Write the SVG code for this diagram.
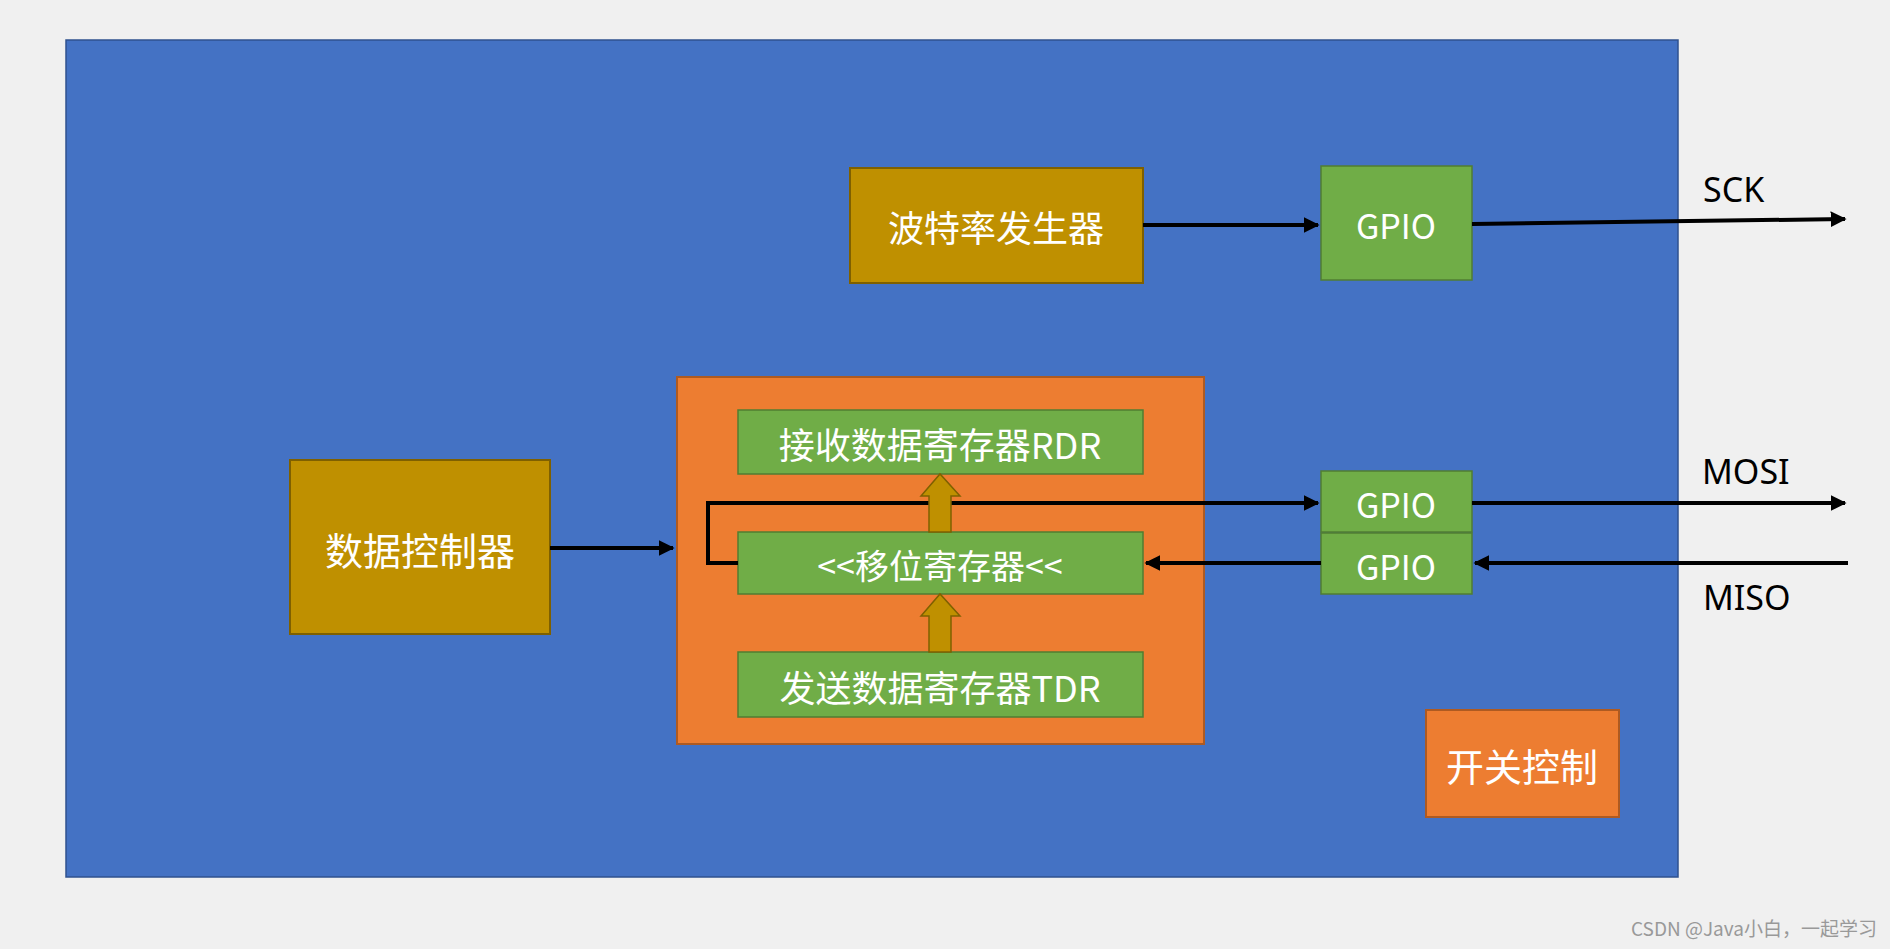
<svg xmlns="http://www.w3.org/2000/svg" width="1890" height="949" viewBox="0 0 1890 949">
<defs>
<style>
.t{font-family:"Noto Sans CJK SC","Noto Sans",sans-serif;fill:#fff;text-anchor:middle;dominant-baseline:central}
.lb{font-family:"Noto Sans","Noto Sans CJK SC",sans-serif;fill:#000;font-size:34px}
.gold{fill:#BF9000;stroke:#7F6000;stroke-width:2}
.green{fill:#70AD47;stroke:#507E32;stroke-width:1.5}
.orange{fill:#ED7D31;stroke:#AE5A21;stroke-width:2}
.ln{stroke:#000;stroke-width:4;fill:none}
.blk{fill:#BF9000;stroke:#7F6000;stroke-width:1.5}
</style>
<marker id="a" viewBox="0 0 10 10" refX="9" refY="5" markerWidth="4" markerHeight="4" orient="auto"><path d="M0,0L10,5L0,10z" fill="#000"/></marker>
</defs>
<rect width="1890" height="949" fill="#F0F0F0"/>
<rect id="main" x="66" y="40" width="1612" height="837" fill="#4472C4" stroke="#2F528F" stroke-width="1.5"/>
<g id="baud"><rect class="gold" x="850" y="168" width="293" height="115"/><text class="t" x="996" y="226" font-size="36">波特率发生器</text></g>
<g id="gpio_sck"><rect class="green" x="1321" y="166" width="151" height="114"/><text class="t" x="1396" y="224" font-size="34">GPIO</text></g>
<g id="spi"><rect class="orange" x="677" y="377" width="527" height="367"/></g>
<g id="rdr"><rect class="green" x="738" y="410" width="405" height="64"/><text class="t" x="940" y="443" font-size="36">接收数据寄存器RDR</text></g>
<g id="shift"><rect class="green" x="738" y="532" width="405" height="62"/><text class="t" x="940" y="564" font-size="34">&lt;&lt;移位寄存器&lt;&lt;</text></g>
<g id="tdr"><rect class="green" x="738" y="652" width="405" height="65"/><text class="t" x="940" y="686" font-size="36">发送数据寄存器TDR</text></g>
<g id="dctl"><rect class="gold" x="290" y="460" width="260" height="174"/><text class="t" x="420" y="548" font-size="38">数据控制器</text></g>
<g id="gpio_mosi"><rect class="green" x="1321" y="471" width="151" height="61"/><text class="t" x="1396" y="503" font-size="34">GPIO</text></g>
<g id="gpio_miso"><rect class="green" x="1321" y="533" width="151" height="61"/><text class="t" x="1396" y="565" font-size="34">GPIO</text></g>
<g id="sw"><rect class="orange" x="1426" y="710" width="193" height="107"/><text class="t" x="1522" y="764" font-size="38">开关控制</text></g>
<g id="connectors">
<path class="ln" d="M1143,225H1318" marker-end="url(#a)"/>
<path class="ln" d="M1472,224L1845,219" marker-end="url(#a)"/>
<path class="ln" d="M550,548H673" marker-end="url(#a)"/>
<path class="ln" d="M738,563H708V503H1318" marker-end="url(#a)"/>
<path class="ln" d="M1472,503H1845" marker-end="url(#a)"/>
<path class="ln" d="M1848,563H1475" marker-end="url(#a)"/>
<path class="ln" d="M1321,563H1146" marker-end="url(#a)"/>
<path class="blk" d="M929,532V496H921L940,474L960,496H951V532Z"/>
<path class="blk" d="M929,652V616H921L940,594L960,616H951V652Z"/>
</g>
<text class="lb" x="1703" y="202">SCK</text>
<text class="lb" x="1702" y="484">MOSI</text>
<text class="lb" x="1703" y="610">MISO</text>
<text x="1877" y="936" text-anchor="end" font-family="Noto Sans CJK SC,sans-serif" font-size="19" fill="#999">CSDN @Java小白，一起学习</text>
</svg>
